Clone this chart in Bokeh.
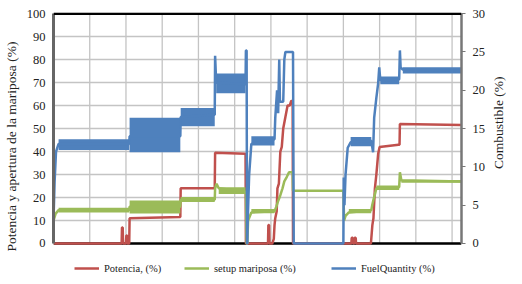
from math import pi
from bokeh.plotting import figure
from bokeh.layouts import row
from bokeh.core.properties import value
from bokeh.models import (Range1d, LinearAxis, FixedTicker, Legend, LegendItem, Span)
from bokeh.embed import file_html
from bokeh.resources import INLINE

# ---------------- data (x in sample units, grid every 100) ----------------
pot_x = [0, 188, 189, 191, 192, 200, 201, 203, 204, 209, 210, 350, 351, 445, 446,
         530, 531, 592, 593, 595, 596, 604, 608, 610, 612, 616, 618, 622, 626, 630,
         634, 640, 646, 652, 656, 660, 661, 822, 823, 826, 827, 830, 831, 834, 835,
         876, 880, 883, 887, 891, 896, 900, 952, 955, 956, 1126]
pot_y = [0, 0, 7, 7, 0, 0, 3.5, 3.5, 0, 0, 11, 11.5, 24, 24, 39.5,
         39, 0, 0, 8, 8, 0, 0, 2, 8, 11, 14, 24, 26, 40, 42,
         50, 55, 60, 60, 62, 62, 0, 0, 2.5, 2.5, 0, 0, 2.5, 2.5, 0,
         0, 8, 11, 24, 30, 39, 42, 43, 43, 52, 51.5]

mar_x = [0, 6, 14, 209, 210, 350, 351, 445, 446, 450, 456, 530, 531, 533, 535,
         537, 546, 610, 615, 620, 626, 632, 637, 644, 650, 660, 661, 800, 802,
         806, 815, 877, 880, 883, 888, 891, 954, 956, 960, 1126]
mar_y = [10, 13, 14.5, 14.5, 16, 16, 19, 19, 24, 26, 24, 22.5, 22.5, 0, 0,
         10, 13.5, 14, 16, 18.5, 21, 24, 27, 29, 31, 31, 23, 23, 10,
         12, 13.5, 14.5, 17, 19, 22, 24, 24.5, 31, 27.5, 27]
mar_band_x0 = [14, 210, 351, 456, 546, 815, 891, 960]
mar_band_x1 = [209, 350, 445, 530, 610, 877, 954, 1126]
mar_band_lo = [13.5, 13.0, 18.0, 21.5, 13.2, 13.2, 23.3, 26.4]
mar_band_hi = [15.5, 18.7, 20.2, 24.5, 15.0, 15.0, 25.2, 27.6]

fuel_x = [0, 3, 7, 14, 209, 210, 350, 351, 445, 446, 449, 530, 531, 533, 534,
          535, 536, 540, 546, 610, 612, 617, 620, 623, 625, 634, 637, 640, 658, 661,
          663, 800, 801, 803, 806, 812, 820, 877, 882, 885, 891, 896, 899, 902, 954,
          956, 958, 964, 1126]
fuel_y = [3, 8, 12, 13, 13, 14, 14, 16.5, 16.8, 24.5, 21, 20.8, 25.2, 25.2, 0,
          0, 3, 9, 13, 13.6, 16.4, 20, 17, 24, 18.5, 18.5, 24, 25, 25, 25,
          0, 0, 8.6, 5, 9, 12.5, 13.2, 13.4, 11.9, 16.4, 19, 20.9, 23, 21.3, 21.4,
          25.2, 23, 22.7, 22.5]
fuel_band_x0 = [14, 210, 351, 449, 546, 820, 902, 964]
fuel_band_x1 = [209, 350, 445, 530, 610, 877, 954, 1126]
fuel_band_lo = [12.2, 11.9, 15.3, 19.6, 12.8, 12.7, 20.8, 22.2]
fuel_band_hi = [13.6, 16.4, 17.7, 22.2, 14.0, 13.9, 21.8, 23.0]

left_ticks = [0, 10, 20, 30, 40, 50, 60, 70, 80, 90, 100]
right_ticks = [0, 5, 10, 15, 20, 25, 30]
x_grid = [100, 200, 300, 400, 500, 600, 700, 800, 900, 1000, 1100]

names = ["Potencia, (%)", "setup mariposa (%)", "FuelQuantity (%)"]
left_title = "Potencia y apertura de la mariposa (%)"
right_title = "Combustible (%)"
RED, GREEN, BLUE = "#C0504D", "#9BBB59", "#4F81BD"
FONT = "Times New Roman"
TXT = "#222222"

# ---------------- main figure ----------------
# frame extends below 0 to host the legend; axes/grid are bounded to 0..100
Y0, Y1 = -16.1, 100.5
H = 282
p = figure(width=488, height=H, output_backend="svg", toolbar_location=None,
           x_range=Range1d(0, 1126), y_range=Range1d(Y0, Y1),
           min_border_left=52, min_border_right=24, min_border_top=12,
           min_border_bottom=2)
p.extra_y_ranges = {"fuel": Range1d(Y0 * 0.3, Y1 * 0.3)}
p.outline_line_color = None
p.background_fill_color = "white"
p.border_fill_color = "white"

p.xaxis.visible = False
p.xgrid.visible = False
p.ygrid.ticker = FixedTicker(ticks=left_ticks)
p.ygrid.grid_line_color = "#c4c4c4"
p.ygrid.grid_line_width = 1.3
# vertical grid lines, bounded to the data area
p.segment(x0=x_grid, y0=[0] * len(x_grid), x1=x_grid, y1=[100] * len(x_grid),
          line_color="#c4c4c4", line_width=1.3, level="underlay")

p.add_layout(Span(location=0, dimension="width", line_color="black",
                  line_width=2.5, level="underlay"))
p.add_layout(Span(location=100, dimension="width", line_color="black",
                  line_width=2.5))

ya = p.yaxis[0]
ya.ticker = FixedTicker(ticks=left_ticks)
ya.bounds = (0, 100)
ya.axis_line_color = "#666666"
ya.axis_line_width = 3
ya.major_tick_out = 0
ya.major_tick_in = 0
ya.minor_tick_out = 0
ya.minor_tick_in = 0
ya.major_label_standoff = 8
ya.major_label_text_font = FONT
ya.major_label_text_font_size = "12.5px"
ya.major_label_text_color = TXT

# left title axis (label only)
lt = LinearAxis(ticker=FixedTicker(ticks=[]), bounds=(7, 100), axis_line_color=None,
                major_tick_line_color=None, minor_tick_line_color=None,
                axis_label=left_title, axis_label_standoff=5,
                axis_label_text_font=FONT,
                axis_label_text_font_size="13.5px",
                axis_label_text_font_style="normal",
                axis_label_text_color=TXT)
p.add_layout(lt, "left")

ra = LinearAxis(y_range_name="fuel", ticker=FixedTicker(ticks=right_ticks),
                bounds=(0, 30))
ra.axis_line_color = "#777777"
ra.axis_line_width = 2.5
ra.major_tick_out = 4
ra.major_tick_in = 0
ra.minor_tick_out = 0
ra.minor_tick_in = 0
ra.major_tick_line_color = "#777777"
ra.major_label_standoff = 7
ra.major_label_text_font = FONT
ra.major_label_text_font_size = "12.5px"
ra.major_label_text_color = TXT
p.add_layout(ra, "right")

# ---------------- series ----------------
r_pot = p.line(pot_x, pot_y, line_color=RED, line_width=2.5)

p.quad(left=mar_band_x0, right=mar_band_x1, bottom=mar_band_lo, top=mar_band_hi,
       fill_color=GREEN, line_color=None)
r_mar = p.line(mar_x, mar_y, line_color=GREEN, line_width=2.5)

p.quad(left=fuel_band_x0, right=fuel_band_x1, bottom=fuel_band_lo, top=fuel_band_hi,
       fill_color=BLUE, line_color=None, y_range_name="fuel")
r_fuel = p.line(fuel_x, fuel_y, line_color=BLUE, line_width=2.5, y_range_name="fuel")

# ---------------- legends ----------------
for rend, name, lx in ((r_pot, names[0], 21), (r_mar, names[1], 131),
                       (r_fuel, names[2], 278)):
    lg = Legend(items=[LegendItem(label=name, renderers=[rend])],
                location=(lx, 5), orientation="horizontal",
                border_line_color=None, background_fill_alpha=0,
                padding=0, margin=0, glyph_width=25, glyph_height=14,
                label_standoff=5, label_text_font=FONT,
                label_text_font_size="10.5px", label_text_color=TXT)
    p.add_layout(lg, "center")

# ---------------- right title strip (text reads upwards) ----------------
W2 = 28
t = figure(width=W2, height=H, output_backend="svg", toolbar_location=None,
           x_range=Range1d(0, W2), y_range=Range1d(0, H),
           x_axis_type=None, y_axis_type=None,
           min_border_left=0, min_border_right=0, min_border_top=0,
           min_border_bottom=0)
t.grid.visible = False
t.outline_line_color = None
t.background_fill_color = "white"
t.border_fill_color = "white"
t.text(x=[10], y=[H - 116], text=[right_title], angle=pi / 2,
       text_align="center", text_baseline="middle",
       text_font=value(FONT), text_font_size=value("13.5px"), text_color=TXT)

layout = row(p, t, spacing=0)
open("out.html", "w").write(file_html(layout, INLINE))
